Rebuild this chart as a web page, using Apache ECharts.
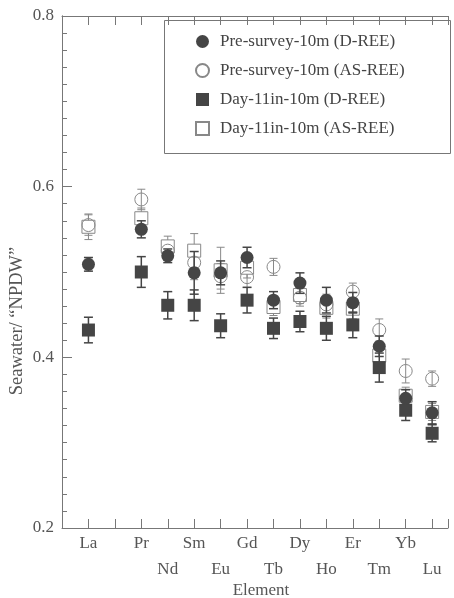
<!DOCTYPE html>
<html><head><meta charset="utf-8">
<script src="https://cdn.jsdelivr.net/npm/echarts@6/dist/echarts.min.js"></script>
<style>html,body{margin:0;padding:0;background:#fff}#c{width:454px;height:598px}</style>
</head><body><div id="c"></div>
<script>
const elements = ['La','Ce','Pr','Nd','Sm','Eu','Gd','Tb','Dy','Ho','Er','Tm','Yb','Lu'];
const measured = ['La','Pr','Nd','Sm','Eu','Gd','Tb','Dy','Ho','Er','Tm','Yb','Lu'];
const yTicks = [0.2, 0.4, 0.6, 0.8];

const preD     = [0.509, 0.550, 0.519, 0.499, 0.499, 0.517, 0.467, 0.487, 0.467, 0.464, 0.413, 0.352, 0.335];
const preDErr  = [0.008, 0.010, 0.008, 0.025, 0.014, 0.012, 0.010, 0.012, 0.015, 0.012, 0.012, 0.010, 0.013];
const preAS    = [0.555, 0.585, 0.525, 0.511, 0.495, 0.494, 0.506, 0.470, 0.462, 0.477, 0.432, 0.384, 0.375];
const preASErr = [0.012, 0.012, 0.010, 0.020, 0.015, 0.012, 0.010, 0.010, 0.012, 0.010, 0.013, 0.014, 0.009];
const dayD     = [0.432, 0.500, 0.461, 0.461, 0.437, 0.467, 0.434, 0.442, 0.434, 0.438, 0.388, 0.338, 0.311];
const dayDErr  = [0.015, 0.018, 0.016, 0.018, 0.014, 0.015, 0.012, 0.012, 0.014, 0.015, 0.017, 0.012, 0.010];
const dayAS    = [0.553, 0.563, 0.530, 0.525, 0.502, 0.505, 0.459, 0.473, 0.458, 0.457, 0.402, 0.355, 0.336];
const dayASErr = [0.015, 0.012, 0.012, 0.020, 0.027, 0.012, 0.010, 0.010, 0.012, 0.012, 0.012, 0.010, 0.010];

const names = ['Pre-survey-10m (D-REE)','Pre-survey-10m (AS-REE)','Day-11in-10m (D-REE)','Day-11in-10m (AS-REE)'];

const FONT = 'Liberation Serif';
const AXIS = '#777';
const TXT = '#555';
const DARK = '#454545';
const GREY = '#888';

function pos(name){ return elements.indexOf(name) + 1; }
function pts(vals){ return measured.map((m,i)=>[pos(m), vals[i]]); }
function errs(vals, e){ return measured.map((m,i)=>[pos(m), vals[i]-e[i], vals[i]+e[i]]); }

function errSeries(vals, e, color, lw, cap, z){
  return {
    type:'custom', data: errs(vals,e), z: z, silent:true,
    encode:{x:0, y:[1,2]},
    renderItem: function(params, api){
      const x = api.value(0), lo = api.value(1), hi = api.value(2);
      const a = api.coord([x, hi]), b = api.coord([x, lo]);
      const st = {stroke:color, lineWidth:lw};
      return {type:'group', children:[
        {type:'line', shape:{x1:a[0],y1:a[1],x2:b[0],y2:b[1]}, style:st},
        {type:'line', shape:{x1:a[0]-cap,y1:a[1],x2:a[0]+cap,y2:a[1]}, style:st},
        {type:'line', shape:{x1:b[0]-cap,y1:b[1],x2:b[0]+cap,y2:b[1]}, style:st}
      ]};
    }
  };
}

const chart = echarts.init(document.getElementById('c'), null, {renderer:'canvas'});
const xCommon = {
  type:'value', min:0, max:14.6, interval:1,
  axisLine:{show:true, lineStyle:{color:AXIS, width:1}},
  axisTick:{show:true, inside:true, length:9, lineStyle:{color:AXIS}},
  splitLine:{show:false}
};
chart.setOption({
  animation:false,
  textStyle:{fontFamily:FONT},
  grid:{left:62, top:16, right:6, bottom:70, show:false},
  legend:{
    data:names, orient:'vertical', left:195, top:33, padding:0, z:10,
    itemWidth:13, itemHeight:13, itemGap:12,
    textStyle:{fontFamily:FONT, fontSize:17, color:'#444', padding:[0,0,0,6]}
  },
  xAxis:[
    Object.assign({}, xCommon, {
      position:'bottom',
      axisLabel:{
        show:true, margin:3, fontFamily:FONT, fontSize:17, color:TXT, lineHeight:26,
        verticalAlign:'top',
        formatter:function(v){
          if (Math.abs(v-Math.round(v))>1e-6 || v<1) return '';
          const n = Math.round(v);
          const nm = elements[n-1];
          if (!nm || measured.indexOf(nm)<0) return '';
          return (n % 2 === 1) ? nm : '\n' + nm;
        }
      }
    }),
    Object.assign({}, xCommon, {position:'top', axisLabel:{show:false}})
  ],
  yAxis:[
    {
      type:'value', min:yTicks[0], max:yTicks[yTicks.length-1], interval:0.2,
      axisLine:{show:true, lineStyle:{color:AXIS}},
      axisTick:{show:true, inside:true, length:10, lineStyle:{color:AXIS}},
      minorTick:{show:true, splitNumber:10, length:5, lineStyle:{color:AXIS}},
      splitLine:{show:false},
      axisLabel:{margin:8, fontFamily:FONT, fontSize:17, color:TXT, formatter:v=>v.toFixed(1)}
    },
    {
      type:'value', min:yTicks[0], max:yTicks[yTicks.length-1], position:'right',
      axisLine:{show:true, lineStyle:{color:AXIS}},
      axisTick:{show:false}, axisLabel:{show:false}, splitLine:{show:false}
    }
  ],
  graphic:[
    {type:'rect', left:162, top:18, z:0, shape:{width:286, height:133}, style:{fill:'none', stroke:AXIS, lineWidth:1}},
    {type:'text', x:261, y:591, style:{text:'Element', font:'17px "Liberation Serif"', fill:TXT, textAlign:'center', textVerticalAlign:'middle'}},
    {type:'text', x:17, y:321, rotation:Math.PI/2, style:{text:'Seawater/ \u201CNPDW\u201D', font:'18.5px "Liberation Serif"', fill:TXT, textAlign:'center', textVerticalAlign:'middle'}}
  ],
  series:[
    errSeries(dayAS, dayASErr, GREY, 1, 4, 2),
    errSeries(preAS, preASErr, GREY, 1, 4, 2),
    {name:names[3], type:'scatter', data:pts(dayAS), symbol:'rect', symbolSize:13, z:3,
      itemStyle:{color:'#fff', borderColor:GREY, borderWidth:1, opacity:1}},
    {name:names[1], type:'scatter', data:pts(preAS), symbol:'circle', symbolSize:13, z:3,
      itemStyle:{color:'rgba(255,255,255,0)', borderColor:GREY, borderWidth:1, opacity:1}},
    errSeries(dayD, dayDErr, DARK, 1.5, 4.5, 4),
    errSeries(preD, preDErr, DARK, 1.5, 4.5, 4),
    {name:names[2], type:'scatter', data:pts(dayD), symbol:'rect', symbolSize:13, z:5,
      itemStyle:{color:DARK, opacity:1}},
    {name:names[0], type:'scatter', data:pts(preD), symbol:'circle', symbolSize:13, z:5,
      itemStyle:{color:DARK, opacity:1}}
  ]
});
</script></body></html>
